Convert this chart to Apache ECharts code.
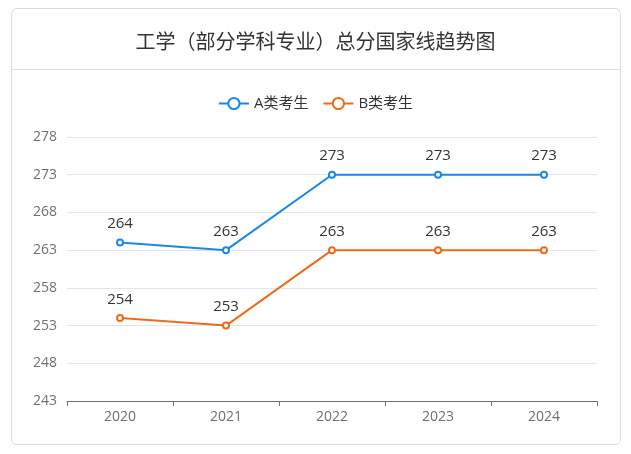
<!DOCTYPE html>
<html>
<head>
<meta charset="utf-8">
<script src="https://cdn.jsdelivr.net/npm/echarts@6/dist/echarts.min.js"></script>
<style>
  html, body { margin: 0; padding: 0; background: #fff; }
  #card {
    position: absolute; left: 11px; top: 8px; width: 608px; height: 435px;
    border: 1px solid #dcdcdc; border-radius: 6px;
  }
  #head {
    position: absolute; left: 0; right: 0; top: 60px; border-top: 1px solid #dcdcdc;
  }
  #chart { position: absolute; left: 0; top: 0; width: 631px; height: 454px; }
</style>
</head>
<body>
<div id="card"><div id="head"></div></div>
<div id="chart"></div>
<script>
var years = ['2020', '2021', '2022', '2023', '2024']
var seriesA = [264, 263, 273, 273, 273]
var seriesB = [254, 253, 263, 263, 263]
var colorA = '#1b87e6'
var colorB = '#ee6b1a'
var font = "'Open Sans', 'Noto Sans CJK SC', sans-serif"

var chart = echarts.init(document.getElementById('chart'))
chart.setOption({
  animation: false,
  textStyle: { fontFamily: font },
  title: {
    text: '工学（部分学科专业）总分国家线趋势图',
    left: 'center',
    top: 28,
    textStyle: {
      fontSize: 20,
      fontWeight: 'normal',
      color: '#333',
      fontFamily: font
    }
  },
  legend: {
    data: ['A类考生', 'B类考生'],
    top: 91,
    left: 'center',
    itemWidth: 30,
    itemHeight: 14,
    itemGap: 14,
    textStyle: { fontSize: 15, color: '#333', fontFamily: font }
  },
  grid: {
    left: 67,
    right: 34,
    top: 137,
    bottom: 53
  },
  xAxis: {
    type: 'category',
    data: years,
    boundaryGap: true,
    axisLine: { lineStyle: { color: '#6E7079' } },
    axisTick: { show: true, length: 5 },
    axisLabel: { fontSize: 14, color: '#6E7079', margin: 9 }
  },
  yAxis: {
    type: 'value',
    min: 243,
    max: 278,
    interval: 5,
    axisLine: { show: false },
    axisTick: { show: false },
    axisLabel: { fontSize: 14, color: '#6E7079', margin: 10 },
    splitLine: { lineStyle: { color: '#E0E6F1' } }
  },
  series: [
    {
      name: 'A类考生',
      type: 'line',
      data: seriesA,
      symbol: 'emptyCircle',
      symbolSize: 6,
      itemStyle: { color: colorA, borderWidth: 2 },
      lineStyle: { color: colorA, width: 2 },
      label: { show: true, position: 'top', fontSize: 15, color: '#333', distance: 7 }
    },
    {
      name: 'B类考生',
      type: 'line',
      data: seriesB,
      symbol: 'emptyCircle',
      symbolSize: 6,
      itemStyle: { color: colorB, borderWidth: 2 },
      lineStyle: { color: colorB, width: 2 },
      label: { show: true, position: 'top', fontSize: 15, color: '#333', distance: 7 }
    }
  ]
})
</script>
</body>
</html>
